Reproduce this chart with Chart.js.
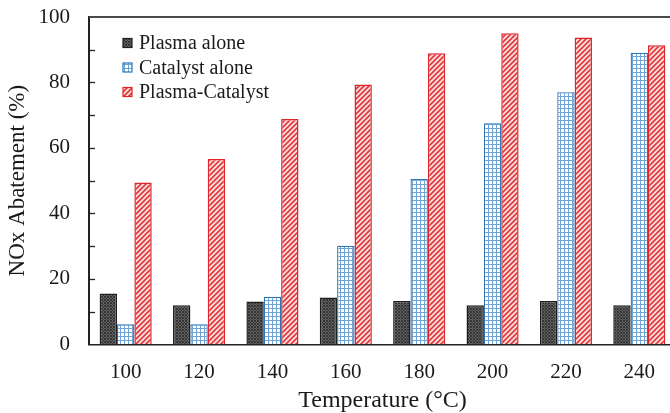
<!DOCTYPE html>
<html>
<head>
<meta charset="utf-8">
<script src="https://cdn.jsdelivr.net/npm/chart.js@4/dist/chart.umd.min.js"></script>
<style>
  html, body { margin: 0; padding: 0; background: #fff; overflow: hidden; }
  #wrap { position: relative; width: 680px; height: 413px; }
</style>
</head>
<body>
<div id="wrap"><canvas id="c"></canvas></div>
<script>
const categories = ['100', '120', '140', '160', '180', '200', '220', '240'];
const plasmaAlone = [15.5, 11.9, 13.1, 14.3, 13.2, 11.9, 13.2, 11.9];
const catalystAlone = [6.1, 6.1, 14.5, 30.1, 50.5, 67.5, 77.0, 89.1];
const plasmaCatalyst = [49.4, 56.6, 68.8, 79.4, 88.9, 95.0, 93.7, 91.4];
const seriesNames = ['Plasma alone', 'Catalyst alone', 'Plasma-Catalyst'];
const yTicks = [0, 20, 40, 60, 80, 100];

const FONT = '"Liberation Serif", "Times New Roman", serif';

function makePattern(kind) {
  const c = document.createElement('canvas');
  const ctx = c.getContext('2d');
  if (kind === 'dark') {
    c.width = 3; c.height = 3;
    ctx.fillStyle = '#636363'; ctx.fillRect(0, 0, 3, 3);
    ctx.fillStyle = '#353535';
    ctx.fillRect(0, 0, 1, 1); ctx.fillRect(1, 1, 1, 1); ctx.fillRect(2, 2, 1, 1);
    ctx.fillRect(2, 0, 1, 1); ctx.fillRect(0, 2, 1, 1);
  } else if (kind === 'grid') {
    c.width = 4; c.height = 4;
    ctx.fillStyle = '#ffffff'; ctx.fillRect(0, 0, 4, 4);
    ctx.fillStyle = '#6fa3d6';
    ctx.fillRect(0, 0, 4, 1); ctx.fillRect(0, 0, 1, 4);
  } else {
    const s = 5;
    c.width = s; c.height = s;
    ctx.fillStyle = '#fbe3e3'; ctx.fillRect(0, 0, s, s);
    ctx.strokeStyle = '#e2383c'; ctx.lineWidth = 1.7;
    ctx.beginPath();
    ctx.moveTo(-1, s + 1); ctx.lineTo(s + 1, -1);
    ctx.moveTo(-1, 1); ctx.lineTo(1, -1);
    ctx.moveTo(s - 1, s + 1); ctx.lineTo(s + 1, s - 1);
    ctx.stroke();
  }
  return c.getContext('2d').createPattern(c, 'repeat');
}

const fills = [makePattern('dark'), makePattern('grid'), makePattern('stripe')];
const borders = ['#1e1e1e', '#2f74b5', '#e0262b'];

const extras = {
  id: 'extras',
  afterDraw(chart) {
    const ctx = chart.ctx;
    const a = chart.chartArea;
    const y = chart.scales.y;
    ctx.save();
    // top frame line
    ctx.strokeStyle = '#4a4a4a';
    ctx.lineWidth = 2;
    ctx.beginPath();
    ctx.moveTo(a.left, a.top);
    ctx.lineTo(chart.width, a.top);
    ctx.stroke();
    // inward ticks every 10
    ctx.strokeStyle = '#222';
    ctx.lineWidth = 1.3;
    for (let v = 10; v < 100; v += 10) {
      const py = Math.round(y.getPixelForValue(v)) + 0.5;
      ctx.beginPath();
      ctx.moveTo(a.left, py);
      ctx.lineTo(a.left + 6, py);
      ctx.stroke();
    }
    // legend
    const lx = 123, ly0 = 43, step = 24.5;
    ctx.font = '20px ' + FONT;
    ctx.textBaseline = 'middle';
    ctx.textAlign = 'left';
    chart.data.datasets.forEach((ds, i) => {
      const cy = ly0 + i * step;
      ctx.fillStyle = ds.backgroundColor;
      ctx.fillRect(lx, cy - 4.5, 9, 9);
      ctx.strokeStyle = ds.borderColor;
      ctx.lineWidth = 1.2;
      ctx.strokeRect(lx, cy - 4.5, 9, 9);
      ctx.fillStyle = '#1a1a1a';
      ctx.fillText(ds.label, 139, cy + 1);
    });
    ctx.restore();
  }
};

new Chart(document.getElementById('c'), {
  type: 'bar',
  data: {
    labels: categories,
    datasets: [
      { label: seriesNames[0], data: plasmaAlone, backgroundColor: fills[0], borderColor: borders[0], borderWidth: 1.5 },
      { label: seriesNames[1], data: catalystAlone, backgroundColor: fills[1], borderColor: borders[1], borderWidth: 1.3 },
      { label: seriesNames[2], data: plasmaCatalyst, backgroundColor: fills[2], borderColor: borders[2], borderWidth: 1.5 }
    ]
  },
  options: {
    responsive: true,
    maintainAspectRatio: false,
    animation: false,
    devicePixelRatio: 1,
    layout: { padding: { top: 17, right: 4, bottom: 0, left: 0 } },
    datasets: { bar: { categoryPercentage: 0.71, barPercentage: 1.0 } },
    plugins: { legend: { display: false }, tooltip: { enabled: false } },
    scales: {
      x: {
        grid: { display: false, drawTicks: true, tickLength: 14 },
        border: { display: true, color: '#222', width: 1.5 },
        ticks: { color: '#1a1a1a', font: { family: FONT, size: 21 }, padding: 2 },
        title: { display: true, text: 'Temperature (°C)', color: '#1a1a1a',
                 font: { family: FONT, size: 24, lineHeight: 1 }, padding: { top: 1.5, bottom: 0 } }
      },
      y: {
        min: 0, max: 100,
        afterBuildTicks(scale) { scale.ticks = yTicks.map(v => ({ value: v })); },
        grid: { display: false, drawTicks: true, tickLength: 17 },
        border: { display: true, color: '#222', width: 2 },
        ticks: { color: '#1a1a1a', font: { family: FONT, size: 21 }, padding: 2 },
        title: { display: true, text: 'NOx Abatement (%)', color: '#1a1a1a',
                 font: { family: FONT, size: 23, lineHeight: 1 }, padding: { top: 6, bottom: 7.5 } }
      }
    }
  },
  plugins: [extras]
});
</script>
</body>
</html>
